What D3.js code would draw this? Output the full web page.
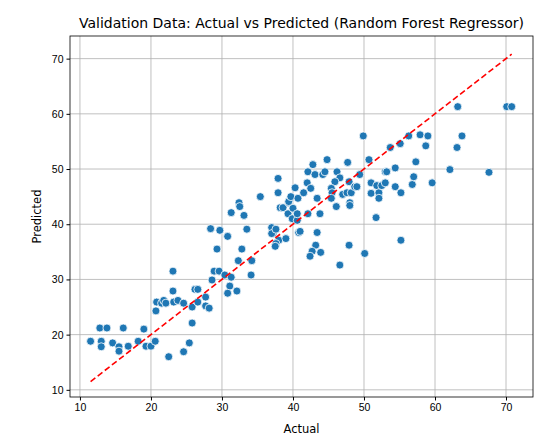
<!DOCTYPE html>
<html><head><meta charset="utf-8">
<script src="https://cdn.jsdelivr.net/npm/d3@7"></script>
<style>body{margin:0;background:#fff;font-family:"DejaVu Sans",sans-serif}</style>
</head><body><div id="vis"></div>
<script>
// actual values
var actual = [11.5,12.8,13.8,13.0,13.0,16.1,14.6,15.5,15.5,16.8,18.2,19.0,19.3,20.0,20.6,22.5,24.6,25.4,
  20.7,20.8,21.5,21.8,22.1,23.1,23.1,23.2,23.8,24.6,25.8,25.8,26.2,26.6,26.6,27.7,27.7,28.2,28.6,28.9,29.6,
  29.3,28.4,29.7,30.4,30.8,31.3,31.1,30.8,32.1,32.3,32.8,33.5,34.2,34.1,31.3,33.1,32.4,32.5,38.2,38.6,39.4,
  37.0,37.2,37.0,37.6,38.0,37.6,37.5,39.0,39.3,40.0,39.9,40.6,40.8,
  35.4,37.9,37.9,39.4,39.7,40.6,40.3,40.7,41.5,42.0,42.1,42.8,43.1,42.5,43.4,44.2,44.5,44.8,46.2,46.6,45.9,
  45.4,45.5,45.4,47.0,46.1,47.7,47.9,47.6,48.2,48.0,48.0,48.7,49.0,49.4,49.9,50.7,51.0,51.0,51.8,52.1,52.1,
  52.5,53.0,53.0,53.2,53.7,54.4,54.4,55.1,55.2,56.3,56.8,57.0,57.3,57.9,58.7,59.0,59.6,62.1,63.1,63.2,63.8,
  67.6,70.1,70.8,41.0,43.4,43.2,42.7,42.4,43.9,46.6,47.9,50.1,51.7,55.2,42.1,43.8];
// predicted values
var predicted = [18.8,21.2,21.2,18.8,17.8,21.2,18.5,17.8,17.0,17.9,18.8,21.0,17.9,17.9,18.8,16.0,16.9,18.5,
  24.3,25.9,25.7,26.2,25.7,27.9,31.5,25.9,26.2,25.7,25.0,22.1,28.2,28.2,25.9,26.8,25.2,24.8,29.9,31.5,31.5,
  35.5,39.2,38.9,30.8,37.8,30.4,28.8,27.5,27.9,33.4,35.5,39.1,33.4,30.8,42.1,41.6,43.9,43.2,43.0,43.0,43.9,
  39.4,38.3,38.3,39.1,37.1,36.5,36.0,37.4,41.9,42.9,41.0,40.7,38.5,
  45.0,48.3,45.7,44.1,45.0,41.9,46.6,44.7,45.7,47.5,49.5,50.8,49.0,46.5,44.7,49.0,49.5,51.7,49.5,48.4,47.7,
  46.5,45.7,44.7,45.4,43.2,51.2,47.7,45.7,45.7,43.9,43.4,46.8,46.8,49.0,56.0,51.7,47.5,45.6,47.0,45.7,44.7,
  47.0,47.5,49.5,49.5,53.9,50.2,46.8,54.6,45.7,56.0,47.2,48.6,51.3,56.2,54.2,56.0,47.5,49.9,53.9,61.3,56.0,
  49.4,61.3,61.3,38.7,38.5,36.2,35.1,34.2,34.9,32.6,36.2,34.7,41.2,37.1,41.9,41.9];
var xTicks = [10,20,30,40,50,60,70];
var yTicks = [10,20,30,40,50,60,70];

var width = 558, height = 442;
var mLeft = 70, mRight = 533, mTop = 36, mBottom = 397;

var svg = d3.select("#vis").append("svg").attr("width", width).attr("height", height);

var x = d3.scaleLinear().domain([8.6, 73.8]).range([mLeft, mRight]);
var y = d3.scaleLinear().domain([8.7, 74.1]).range([mBottom, mTop]);

// grid
svg.append("g").selectAll("line").data(xTicks).join("line")
  .attr("x1", d => x(d)).attr("x2", d => x(d)).attr("y1", mTop).attr("y2", mBottom)
  .attr("stroke", "#b0b0b0").attr("stroke-width", 0.8);
svg.append("g").selectAll("line").data(yTicks).join("line")
  .attr("y1", d => y(d)).attr("y2", d => y(d)).attr("x1", mLeft).attr("x2", mRight)
  .attr("stroke", "#b0b0b0").attr("stroke-width", 0.8);

// points
var pts = actual.map((a, i) => [a, predicted[i]]);
svg.append("g").selectAll("circle").data(pts).join("circle")
  .attr("cx", d => x(d[0])).attr("cy", d => y(d[1])).attr("r", 4)
  .attr("fill", "#1f77b4").attr("stroke", "#fff").attr("stroke-width", 0.8);

// ideal line
var lo = d3.min(actual), hi = d3.max(actual);
svg.append("line").attr("x1", x(lo)).attr("y1", y(lo)).attr("x2", x(hi)).attr("y2", y(hi))
  .attr("stroke", "red").attr("stroke-width", 1.6).attr("stroke-dasharray", "6,3");

// axes
svg.append("g").attr("transform", "translate(0," + mBottom + ")")
  .call(d3.axisBottom(x).tickValues(xTicks).tickSize(3.5).tickPadding(3))
  .call(g => g.select(".domain").remove())
  .selectAll("text").attr("font-size", 10.5).attr("fill", "#000");
svg.append("g").attr("transform", "translate(" + mLeft + ",0)")
  .call(d3.axisLeft(y).tickValues(yTicks).tickSize(3.5).tickPadding(3))
  .call(g => g.select(".domain").remove())
  .selectAll("text").attr("font-size", 10.5).attr("fill", "#000");
svg.append("rect").attr("x", mLeft).attr("y", mTop).attr("width", mRight - mLeft).attr("height", mBottom - mTop)
  .attr("fill", "none").attr("stroke", "#000").attr("stroke-width", 0.8);

// labels
svg.append("text").attr("x", (mLeft + mRight) / 2).attr("y", 28).attr("text-anchor", "middle")
  .attr("font-size", 14).text("Validation Data: Actual vs Predicted (Random Forest Regressor)");
svg.append("text").attr("x", (mLeft + mRight) / 2).attr("y", 433).attr("text-anchor", "middle")
  .attr("font-size", 11.5).text("Actual");
svg.append("text").attr("transform", "translate(41," + (mTop + mBottom) / 2 + ") rotate(-90)")
  .attr("text-anchor", "middle").attr("font-size", 11.5).text("Predicted");
</script></body></html>
